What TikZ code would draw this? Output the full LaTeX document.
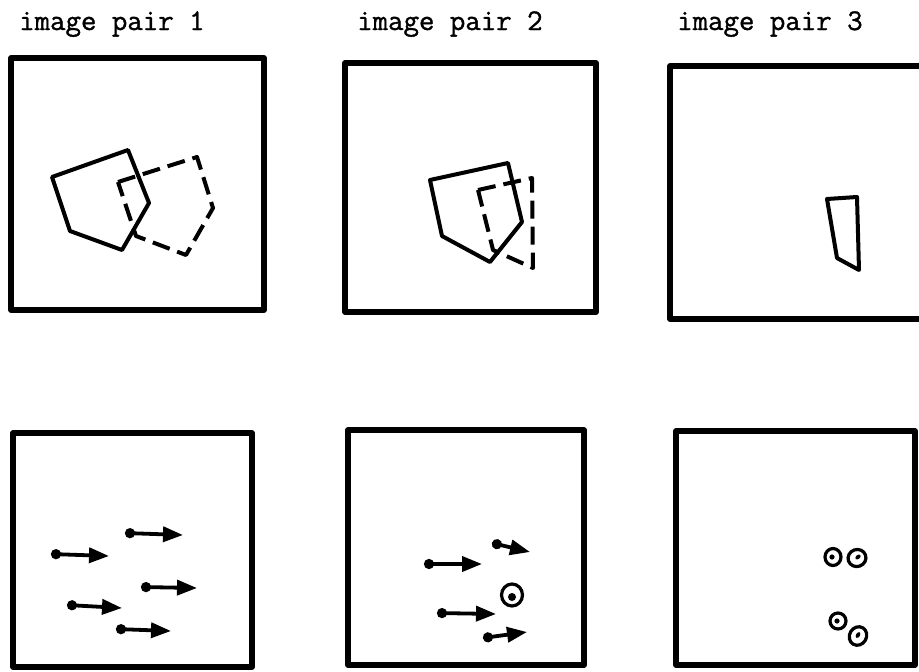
\documentclass[tikz,border=0pt]{standalone}
\usepackage{fontspec}
\newfontfamily\lblfont[FakeBold=1.2]{Latin Modern Mono}
\usetikzlibrary{arrows.meta}
\begin{document}
\begin{tikzpicture}[x=1pt,y=-1pt,
  frame/.style={line width=5.5pt, line join=round},
  outline/.style={line width=4pt, line join=round, line cap=round},
  doutline/.style={line width=4pt, line join=round, dash pattern=on 18pt off 8pt},
  mvec/.style={line width=3.8pt, {Circle[length=10pt]}-{Triangle[length=20pt,width=15pt]}},
  ring/.style={line width=3.2pt},
  lbl/.style={font=\lblfont\fontsize{30}{33}\selectfont, anchor=base west, inner sep=0pt}]
\useasboundingbox (0,0) rectangle (919,672);
% labels
\node[lbl] (l1) at (19,30) {image pair 1};
\node[lbl] (l2) at (357,30) {image pair 2};
\node[lbl] (l3) at (677,30) {image pair 3};
% frames
\draw[frame] (11,58) rectangle (264,310);
\draw[frame] (345,63) rectangle (596,312);
\draw[frame] (926,66) -- (670,66) -- (670,319) -- (926,319);
\draw[frame] (13,433) rectangle (252,667);
\draw[frame] (348,430) rectangle (584,665);
\draw[frame] (676,431) rectangle (915,665);
% pair 1, image 1
\draw[outline] (52,177) -- (128,150) -- (149,203) -- (122,250) -- (70,231) -- cycle;
\draw[doutline] (118,182) -- (197,157) -- (213,208) -- (186,255) -- (136,236) -- cycle;
% pair 2, image 1
\draw[outline] (430,180) -- (508,163) -- (522,222) -- (490,262) -- (442,236) -- cycle;
\draw[doutline] (478,190) -- (532,178) -- (533,268) -- (493,250) -- cycle;
% pair 3, image 1
\draw[outline] (827,199) -- (857,197) -- (859,270) -- (837,258) -- cycle;
% pair 1, image 2
\draw[mvec] (125,533) -- (183,535);
\draw[mvec] (51,554) -- (109,556);
\draw[mvec] (141,587) -- (197,588);
\draw[mvec] (67,605) -- (122,608);
\draw[mvec] (116,629) -- (171,631);
% pair 2, image 2
\draw[mvec] (492,543) -- (530,552);
\draw[mvec] (424,564) -- (482,564);
\draw[mvec] (437,613) -- (496,614);
\draw[mvec] (483,638) -- (527,632);
\draw[ring] (512,595) ellipse (10.5pt and 11pt);
\fill (512,597) ellipse (4pt and 4pt);
% pair 3, image 2
\draw[ring] (833,557) ellipse (8pt and 8.5pt);
\fill (832,557) circle (2.6pt);
\draw[ring, rotate around={20:(857,558)}] (857,558) ellipse (9pt and 8.5pt);
\fill[rotate around={40:(858,557)}] (858,557) ellipse (3pt and 2pt);
\draw[ring] (838,621) ellipse (8pt and 8pt);
\fill (837,621) circle (2.6pt);
\draw[ring, rotate around={60:(858,636)}] (858,636) ellipse (9.5pt and 8.5pt);
\fill[rotate around={60:(858,635)}] (858,635) ellipse (3.2pt and 2pt);
\end{tikzpicture}
\end{document}
